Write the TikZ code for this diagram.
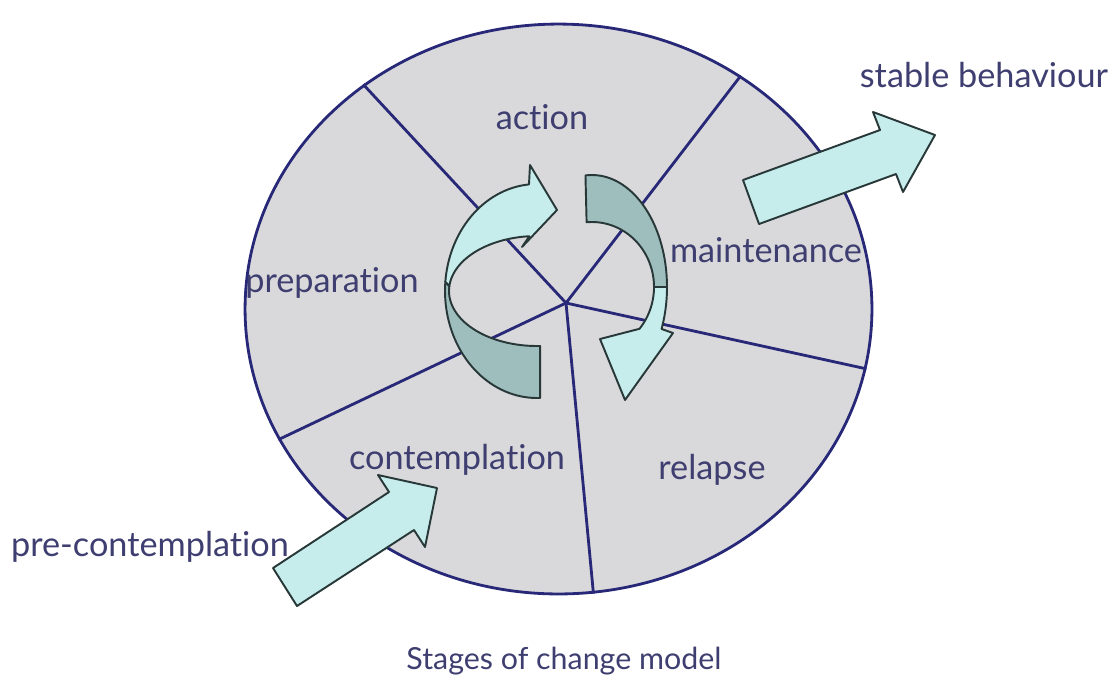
\documentclass[tikz,border=0pt]{standalone}
\usepackage{fontspec}
\setmainfont{Lato}[Ligatures=NoCommon]
\usetikzlibrary{shapes.geometric, positioning}

\definecolor{rimblue}{RGB}{40,40,120}
\definecolor{wheelgray}{RGB}{217,217,219}
\definecolor{labelblue}{RGB}{62,62,112}
\definecolor{ribbonlight}{RGB}{198,236,236}
\definecolor{ribbondark}{RGB}{158,190,190}
\definecolor{ribbonedge}{RGB}{40,56,56}

\begin{document}
\begin{tikzpicture}[
  x=0.02cm, y=-0.02cm,
  spoke/.style={draw=rimblue, line width=1.6pt},
  stage/.style={text=labelblue, font=\fontsize{19.5}{22}\selectfont, inner sep=0pt},
  ribbon/.style={draw=ribbonedge, line width=1.1pt, line join=round},
  flatarrow/.style={ribbon, fill=ribbonlight}
]
  \useasboundingbox (0,0) rectangle (1114,681);

  % wheel and spokes
  \node[ellipse, draw=rimblue, fill=wheelgray, line width=1.6pt, inner sep=0pt,
        minimum width=12.54cm, minimum height=11.4cm] (wheel) at (558.5,309) {};
  \coordinate (hub) at (566,303);
  \foreach \a in {131.5, 52.5, -11.5, -83, 205}
    \draw[spoke] (hub) -- (wheel.\a);

  % cycle arrows, left one
  \draw[ribbon, fill=ribbondark]
    plot[domain=185:88, samples=40, variable=\t] ({537+92*cos(\t)},{291+107*sin(\t)})
    -- plot[domain=88:185, samples=40, variable=\t] ({537+88*cos(\t)},{291+55*sin(\t)}) -- cycle;
  \draw[ribbon, fill=ribbonlight]
    plot[domain=185:265, samples=40, variable=\t] ({537+92*cos(\t)},{291+107*sin(\t)})
    -- (530,165) -- (557,210) -- (522,247)
    -- plot[domain=265:185, samples=40, variable=\t] ({537+88*cos(\t)},{291+55*sin(\t)}) -- cycle;

  % cycle arrows, right one
  \draw[ribbon, fill=ribbondark]
    plot[domain=265:360, samples=40, variable=\t] ({592+75*cos(\t)},{287+112*sin(\t)})
    -- plot[domain=360:265, samples=40, variable=\t] ({592+62*cos(\t)},{287+65*sin(\t)}) -- cycle;
  \draw[ribbon, fill=ribbonlight]
    plot[domain=0:22, samples=20, variable=\t] ({592+75*cos(\t)},{287+112*sin(\t)})
    -- (673,333) -- (625,400) -- (600,339)
    -- plot[domain=40:0, samples=20, variable=\t] ({592+62*cos(\t)},{287+65*sin(\t)}) -- cycle;

  % way in and way out
  \draw[flatarrow] (743,180) -- (880,130) -- (873,112) -- (935,135) -- (903,192) -- (896,174) -- (759,224) -- cycle;
  \draw[flatarrow] (273,568) -- (389,492) -- (378,475) -- (437,488) -- (425,547) -- (414,530) -- (297,606) -- cycle;

  % stage labels
  \node[stage] (action) at (542,117) {action};
  \node[stage] (maintenance) at (766,250) {maintenance};
  \node[stage] (preparation) at (332,283) {preparation};
  \node[stage] (contemplation) at (457,460) {contemplation};
  \node[stage] (relapse) at (712,470) {relapse};
  \node[stage] (precontemplation) at (150,547) {pre-contemplation};
  \node[stage] (stable) at (984,75) {stable behaviour};
  \node[stage, font=\fontsize{17.3}{20}\selectfont] (title) at (564,661) {Stages of change model};
\end{tikzpicture}
\end{document}
